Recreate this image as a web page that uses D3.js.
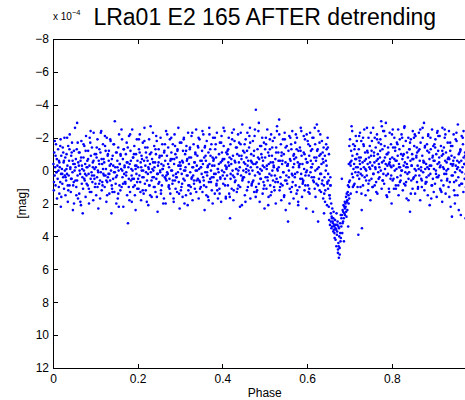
<!DOCTYPE html>
<html><head><meta charset="utf-8">
<script src="https://cdn.jsdelivr.net/npm/d3@7"></script>
<style>body{margin:0;background:#fff;overflow:hidden} text{font-family:"Liberation Sans",Arial,Helvetica,sans-serif}</style>
</head><body><svg id="c" width="465" height="400"></svg>
<script>
const titleText = "LRa01 E2 165 AFTER detrending";
const xLabel = "Phase", yLabel = "[mag]";
const xTicks = [0, 0.2, 0.4, 0.6, 0.8];
const yTicks = [-8, -6, -4, -2, 0, 2, 4, 6, 8, 10, 12];
const expLabel = "x 10", expPower = "\u22124";

// [phase, magnitude (x 1e-4)]
const band1 = [
[.001,-0.4],[.002,1.2],[.003,-1.1],[.004,0.3],[.005,-0.2],[.006,0.9],[.007,-1.6],[.008,0.1],[.009,-0.7],[.0095,1.7],
[.011,0.5],[.012,-1.3],[.013,0.0],[.014,-0.6],[.015,1.4],[.016,-0.2],[.017,0.7],[.018,-1.9],[.019,0.2],[.0195,-0.9],[.0185,2.2],
[.021,-0.1],[.022,0.8],[.023,-1.4],[.024,0.4],[.025,-0.5],[.026,1.1],[.027,-2.0],[.028,0.0],[.029,-0.8],[.0295,1.5],
[.031,0.6],[.032,-1.0],[.033,0.2],[.034,-0.3],[.035,1.9],[.036,-1.5],[.037,0.3],[.038,-0.6],[.039,0.9],[.0395,-2.2],
[.041,-0.2],[.042,1.3],[.043,-0.9],[.044,0.5],[.045,-1.7],[.046,0.1],[.047,2.4],[.048,-0.4],[.049,0.7],[.0495,-1.2],
[.051,0.0],[.052,-2.6],[.053,0.6],[.054,-0.7],[.055,1.0],[.056,-1.3],[.057,-2.9],[.058,0.3],[.059,1.7],[.0595,-0.5],
[.061,-0.3],[.062,1.4],[.063,-1.1],[.064,0.2],[.065,-0.6],[.066,2.1],[.067,-1.8],[.068,0.8],[.069,-0.1],[.0695,0.4],
[.071,1.1],[.072,-0.8],[.073,0.0],[.074,-1.5],[.075,0.6],[.076,-0.4],[.077,1.6],[.078,-2.1],[.079,0.3],[.0795,-0.2],
[.081,-0.6],[.082,0.9],[.083,-1.2],[.084,0.2],[.085,2.0],[.086,-0.3],[.087,1.3],[.088,-1.7],[.089,0.5],[.0895,-0.9],
[.091,0.1],[.092,-1.4],[.093,0.7],[.094,-0.5],[.095,1.8],[.096,-2.3],[.097,0.3],[.098,-0.1],[.099,1.0],[.0985,-1.0],
[.101,-0.2],[.102,1.5],[.103,-0.8],[.104,0.4],[.105,-1.9],[.106,0.0],[.107,2.3],[.108,-0.6],[.109,0.8],[.1095,-1.3],
[.111,0.6],[.112,-1.1],[.113,0.1],[.114,-2.4],[.115,1.2],[.116,-0.4],[.117,0.9],[.118,-1.6],[.119,0.2],[.1195,-0.7],
[.121,-0.5],[.122,1.0],[.123,-1.5],[.124,0.3],[.125,-0.1],[.126,1.9],[.127,-2.0],[.128,0.7],[.129,-0.9],[.1295,0.4],
[.131,0.2],[.132,-1.2],[.133,1.4],[.134,-0.3],[.135,0.6],[.136,-1.8],[.137,0.0],[.138,2.6],[.139,-0.7],[.1395,1.1],
[.141,-0.9],[.142,0.5],[.143,-1.6],[.144,0.1],[.145,1.3],[.146,-3.0],[.147,-0.2],[.148,0.8],[.149,-1.1],[.1495,2.0],
[.151,0.3],[.152,-0.6],[.153,1.7],[.154,-1.4],[.155,0.0],[.156,-2.2],[.157,0.9],[.158,-0.4],[.159,1.2],[.1595,-1.0],
[.161,-0.1],[.162,1.0],[.163,-1.9],[.164,0.4],[.165,-0.7],[.166,2.2],[.167,-1.3],[.168,0.2],[.169,-0.3],[.1695,0.7],
[.171,0.8],[.172,-1.0],[.173,0.1],[.174,-1.7],[.175,1.5],[.176,-0.5],[.177,3.2],[.178,-0.2],[.179,0.5],[.1795,-2.1],
[.181,-0.4],[.182,1.3],[.183,-1.2],[.184,0.6],[.185,-0.1],[.186,1.9],[.187,-2.5],[.188,0.0],[.189,-0.8],[.1895,1.0],
[.191,0.5],[.192,-1.5],[.193,0.9],[.194,-0.3],[.195,2.4],[.196,-1.0],[.197,0.2],[.198,-1.9],[.199,1.1],[.1995,-0.6]
];
const band2 = [
[.201,-0.2],[.202,1.1],[.203,-1.3],[.204,0.3],[.205,-2.2],[.206,0.7],[.207,-0.5],[.208,1.8],[.209,-0.9],[.2095,0.0],
[.211,0.4],[.212,-1.7],[.213,0.0],[.214,1.4],[.215,-0.6],[.216,-2.6],[.217,0.8],[.218,-0.3],[.219,1.2],[.2195,-1.1],
[.221,-0.8],[.222,0.6],[.223,-1.4],[.224,0.2],[.225,2.1],[.226,-0.1],[.227,-1.9],[.228,0.9],[.229,-0.4],[.2295,1.5],
[.231,0.1],[.232,-1.1],[.233,1.6],[.234,-0.7],[.235,0.4],[.236,-2.3],[.237,0.0],[.238,1.0],[.239,-1.5],[.2395,-0.2],
[.241,-0.5],[.242,1.3],[.243,-1.0],[.244,0.5],[.245,-1.8],[.246,0.2],[.247,2.5],[.248,-0.3],[.249,0.8],[.2495,-1.3],
[.251,0.7],[.252,-0.9],[.253,0.1],[.254,-2.0],[.255,1.2],[.256,-0.4],[.257,0.9],[.258,-1.6],[.259,0.3],[.2595,-0.1],
[.261,-0.3],[.262,1.7],[.263,-1.2],[.264,0.4],[.265,-0.6],[.266,2.0],[.267,-2.4],[.268,0.6],[.269,-0.9],[.2695,0.1],
[.271,0.2],[.272,-1.4],[.273,1.0],[.274,-0.2],[.275,0.5],[.276,-1.9],[.277,1.4],[.278,-0.7],[.279,0.0],[.2795,-1.1],
[.281,-0.7],[.282,0.8],[.283,-1.6],[.284,0.3],[.285,1.9],[.286,-0.4],[.287,-2.2],[.288,0.6],[.289,-1.0],[.2895,1.1],
[.291,0.4],[.292,-0.8],[.293,1.3],[.294,-1.3],[.295,0.1],[.296,-2.6],[.297,0.7],[.298,-0.3],[.299,2.3],[.2995,-0.5],
[.301,-0.1],[.302,1.2],[.303,-1.7],[.304,0.2],[.305,-0.6],[.306,1.6],[.307,-1.2],[.308,0.5],[.309,-2.0],[.3095,0.0],
[.311,0.6],[.312,-1.0],[.313,-0.2],[.314,1.5],[.315,-1.5],[.316,0.3],[.317,-0.7],[.318,2.1],[.319,-2.3],[.3195,0.9],
[.321,-0.4],[.322,0.9],[.323,-1.3],[.324,0.1],[.325,1.4],[.326,-0.8],[.327,-2.1],[.328,0.4],[.329,-0.2],[.3295,1.8],
[.331,0.3],[.332,-1.6],[.333,0.8],[.334,-0.5],[.335,1.1],[.336,-1.1],[.337,0.0],[.338,-2.5],[.339,0.6],[.3395,-0.3],
[.341,-0.9],[.342,0.5],[.343,-1.4],[.344,1.7],[.345,-0.1],[.346,-1.9],[.347,0.7],[.348,-0.6],[.349,1.0],[.3495,-0.2],
[.351,0.2],[.352,-1.2],[.353,1.3],[.354,-0.4],[.355,-2.2],[.356,0.6],[.357,-0.8],[.358,2.4],[.359,-1.5],[.3595,0.1],
[.361,-0.6],[.362,1.0],[.363,-1.8],[.364,0.3],[.365,-0.2],[.366,1.6],[.367,-1.1],[.368,0.7],[.369,-2.6],[.3695,-0.4],
[.371,0.5],[.372,-0.9],[.373,0.0],[.374,-1.6],[.375,1.2],[.376,-0.3],[.377,2.0],[.378,-2.0],[.379,0.4],[.3795,-0.7],
[.381,-0.3],[.382,1.4],[.383,-1.3],[.384,0.2],[.385,-0.8],[.386,0.9],[.387,-2.3],[.388,0.6],[.389,-0.1],[.3895,1.7],
[.391,0.1],[.392,-1.0],[.393,1.1],[.394,-1.7],[.395,0.4],[.396,-0.5],[.397,1.9],[.398,-2.1],[.399,0.0],[.3995,-0.6]
];
const band3 = [
[.401,-0.7],[.402,0.8],[.403,-1.5],[.404,0.1],[.405,-2.4],[.406,0.5],[.407,-0.3],[.408,1.6],[.409,-1.1],[.4095,-0.1],
[.411,0.3],[.412,-1.2],[.413,0.9],[.414,-0.5],[.415,-2.0],[.416,1.4],[.417,-0.8],[.418,2.9],[.419,-1.6],[.4195,0.2],
[.421,-0.4],[.422,1.1],[.423,-1.9],[.424,0.0],[.425,-0.9],[.426,1.8],[.427,-2.5],[.428,0.4],[.429,-0.6],[.4295,0.7],
[.431,0.6],[.432,-1.4],[.433,-0.1],[.434,1.3],[.435,-1.0],[.436,0.2],[.437,-2.2],[.438,0.9],[.439,-0.5],[.4395,-1.7],
[.441,-0.2],[.442,1.0],[.443,-1.6],[.444,0.3],[.445,-0.7],[.446,2.1],[.447,-2.8],[.448,0.5],[.449,-1.2],[.4495,0.0],
[.451,0.4],[.452,-1.1],[.453,1.5],[.454,-0.4],[.455,-1.9],[.456,0.1],[.457,-0.8],[.458,1.2],[.459,-2.3],[.4595,-0.3],
[.461,-0.6],[.462,0.7],[.463,-1.4],[.464,0.2],[.465,-2.6],[.466,1.7],[.467,-0.2],[.468,-1.0],[.469,0.9],[.4695,-0.5],
[.471,0.0],[.472,-1.8],[.473,0.6],[.474,-0.9],[.475,1.3],[.476,-2.1],[.477,0.3],[.478,-0.4],[.479,-3.7],[.4795,1.0],
[.481,-0.5],[.482,1.2],[.483,-1.3],[.484,0.1],[.485,-2.4],[.486,0.8],[.487,-0.7],[.488,1.9],[.489,-1.5],[.4895,-0.1],
[.491,0.5],[.492,-1.0],[.493,0.0],[.494,-2.0],[.495,1.4],[.496,-0.6],[.497,0.7],[.498,-1.7],[.499,-0.2],[.4995,2.3],
[.501,-0.8],[.502,0.4],[.503,-1.6],[.504,1.1],[.505,-0.3],[.506,-2.5],[.507,0.6],[.508,-1.1],[.509,1.6],[.5095,-0.4],
[.511,0.2],[.512,-1.3],[.513,0.9],[.514,-0.5],[.515,-2.2],[.516,1.3],[.517,-0.9],[.518,0.0],[.519,-1.8],[.5195,0.6],
[.521,-0.3],[.522,1.0],[.523,-2.0],[.524,0.3],[.525,-0.7],[.526,2.0],[.527,-1.4],[.528,0.5],[.529,-2.7],[.5295,-0.1],
[.531,0.7],[.532,-1.1],[.533,-0.2],[.534,-3.1],[.535,1.2],[.536,-0.6],[.537,0.4],[.538,-1.6],[.539,1.8],[.5395,-0.9],
[.541,-0.4],[.542,0.9],[.543,-1.9],[.544,0.1],[.545,-1.0],[.546,1.5],[.547,-2.3],[.548,0.6],[.549,-0.5],[.5495,2.4],
[.551,0.3],[.552,-1.5],[.553,0.8],[.554,-0.3],[.555,3.1],[.556,-1.2],[.557,0.0],[.558,-2.1],[.559,1.1],[.5595,-0.7],
[.561,-0.6],[.562,1.3],[.563,-1.3],[.564,0.2],[.565,-2.4],[.566,0.7],[.567,-0.2],[.568,1.7],[.569,-1.0],[.5695,-0.4],
[.571,0.4],[.572,-1.7],[.573,0.9],[.574,-0.8],[.575,1.4],[.576,-2.0],[.577,0.1],[.578,-0.5],[.579,2.1],[.5795,-1.2],
[.581,-0.2],[.582,1.0],[.583,-1.4],[.584,0.5],[.585,-2.6],[.586,0.2],[.587,-0.9],[.588,1.6],[.589,-0.4],[.5895,0.8],
[.591,0.6],[.592,-1.1],[.593,-0.1],[.594,1.2],[.595,-1.9],[.596,0.3],[.597,-0.7],[.598,2.3],[.599,-2.2],[.5995,0.0]
];
const dipPoints = [
[.601,-0.5],[.602,0.9],[.603,-1.6],[.604,0.3],[.605,-0.9],[.606,1.4],[.607,-2.3],[.608,0.1],[.609,-1.2],[.6095,-0.2],
[.611,0.4],[.612,-1.3],[.613,-0.4],[.614,2.5],[.615,-2.0],[.616,0.7],[.617,-0.8],[.618,1.1],[.619,-1.6],[.6195,0.0],
[.621,-0.6],[.622,0.8],[.623,-2.8],[.624,-0.1],[.625,-1.3],[.626,3.1],[.627,-2.4],[.628,0.5],[.629,-0.9],[.6295,1.2],
[.631,0.2],[.632,-1.0],[.633,1.3],[.634,-0.4],[.635,-1.8],[.636,0.6],[.637,-0.7],[.638,1.7],[.639,-1.4],[.6395,0.9],[.640,2.6],
[.641,0.4],[.642,-0.9],[.643,1.2],[.644,0.0],[.645,-1.6],[.646,-0.3],[.647,2.1],[.648,0.8],[.649,-1.4],[.6495,1.1],[.6485,-2.0],
[.651,0.6],[.652,3.0],[.653,1.5],[.654,3.3],[.655,0.9],[.656,3.1],[.657,2.0],[.658,2.8],[.659,3.4],[.6595,2.3],
[.661,3.2],[.662,2.9],[.663,3.6],[.664,3.4],[.665,4.1],[.666,3.0],[.667,3.5],[.668,3.3],[.669,4.6],[.6695,2.6],[.6645,3.8],
[.671,3.7],[.672,3.1],[.673,4.8],[.674,3.4],[.675,5.3],[.676,4.0],[.677,5.1],[.678,3.2],[.679,4.3],[.6795,2.7],[.6745,4.6],
[.681,2.9],[.682,0.5],[.683,3.8],[.684,2.4],[.685,3.1],[.686,2.1],[.687,4.3],[.688,2.6],[.689,1.9],[.6895,2.3],
[.691,2.2],[.692,1.6],[.693,2.8],[.694,1.9],[.695,2.4],[.696,1.3],[.697,3.4],[.698,2.0],[.699,1.0],[.6995,1.7],
[.701,0.6],[.702,-0.5],[.703,1.4],[.704,-1.2],[.705,-2.7],[.706,0.2],[.707,-0.9],[.708,1.0],[.709,-1.6],[.7095,-0.1],
[.6512,2.2],[.6538,1.7],[.6561,2.6],[.6572,3.5],[.6587,2.9],[.6603,3.1],[.6618,3.7],[.6626,2.5],[.6641,3.3],[.6657,3.0],
[.6672,4.2],[.6686,3.6],[.6703,3.9],[.6714,3.3],[.6728,5.0],[.6739,4.4],[.6752,3.5],[.6768,4.7],[.6781,3.8],[.6796,4.1],
[.6808,3.4],[.6822,2.7],[.6837,3.2],[.6851,2.5],[.6866,2.9],[.6879,2.2],[.6893,2.7],[.6907,2.0],[.6921,2.5],[.6936,1.4],
[.6951,1.8],[.6965,0.9],[.6978,1.5],[.6992,0.7],[.6985,-0.4],[.6998,-1.5]
];
const band4 = [
[.711,-0.4],[.712,0.8],[.713,-1.5],[.714,0.1],[.715,-2.1],[.716,-0.7],[.717,1.3],[.718,-1.0],[.719,0.3],[.7195,-0.2],
[.721,3.9],[.722,-1.3],[.723,0.5],[.724,-0.6],[.725,-2.3],[.726,1.0],[.727,-0.1],[.728,-1.8],[.729,2.4],[.7295,3.5],[.7225,-0.8],[.7265,0.2],
[.731,-0.5],[.732,0.9],[.733,-1.6],[.734,-0.2],[.735,-2.5],[.736,0.4],[.737,-1.1],[.738,1.5],[.739,-0.7],[.7395,0.0],
[.741,0.3],[.742,-1.2],[.743,-0.4],[.744,1.2],[.745,-2.0],[.746,-0.8],[.747,0.6],[.748,-1.5],[.749,-0.1],[.7495,1.8],
[.751,-0.9],[.752,0.5],[.753,-1.8],[.754,-0.3],[.755,1.0],[.756,-2.6],[.757,0.2],[.758,-1.1],[.759,-0.5],[.7595,0.9],
[.761,-0.2],[.762,-1.4],[.763,0.7],[.764,-0.6],[.765,-2.2],[.766,1.4],[.767,-1.0],[.768,0.1],[.769,-1.7],[.7695,-0.4],
[.771,0.4],[.772,-0.8],[.773,-1.9],[.774,0.0],[.775,-3.0],[.776,1.1],[.777,-0.5],[.778,-1.3],[.779,0.6],[.7795,-2.4],
[.781,-0.6],[.782,0.8],[.783,-1.5],[.784,-0.1],[.785,-2.1],[.786,-2.9],[.787,0.3],[.788,-1.0],[.789,1.6],[.7895,-0.3],
[.791,0.2],[.792,-1.1],[.793,-0.4],[.794,1.3],[.795,-2.3],[.796,-0.7],[.797,0.5],[.798,-1.6],[.799,-0.2],[.7995,2.0],
[.801,-0.8],[.802,0.6],[.803,-1.4],[.804,-0.3],[.805,1.1],[.806,-2.0],[.807,0.0],[.808,-1.2],[.809,-0.6],[.8095,0.9],
[.811,-0.1],[.812,-1.7],[.813,0.4],[.814,-0.9],[.815,-2.5],[.816,1.5],[.817,-0.4],[.818,-1.3],[.819,0.7],[.8195,-0.2],
[.821,0.3],[.822,-1.0],[.823,-2.2],[.824,0.0],[.825,-0.7],[.826,1.2],[.827,-1.5],[.828,-0.3],[.829,0.8],[.8295,-2.6],
[.831,-0.5],[.832,0.9],[.833,-1.8],[.834,-0.2],[.835,1.7],[.836,-1.1],[.837,0.2],[.838,-0.8],[.839,-2.0],[.8395,0.5],
[.841,0.1],[.842,-1.3],[.843,2.5],[.844,-0.6],[.845,-1.9],[.846,0.6],[.847,-0.3],[.848,-1.0],[.849,1.1],[.8495,-2.4],
[.851,-0.7],[.852,0.4],[.853,-1.5],[.854,-0.1],[.855,1.4],[.856,-2.1],[.857,0.0],[.858,-0.9],[.859,-1.4],[.8595,0.7],
[.861,-0.3],[.862,1.0],[.863,-1.2],[.864,-2.3],[.865,0.3],[.866,-0.6],[.867,1.8],[.868,-1.7],[.869,-0.2],[.8695,0.5],
[.871,0.6],[.872,-0.9],[.873,-2.0],[.874,0.1],[.875,-0.5],[.876,-2.9],[.877,1.2],[.878,-1.4],[.879,-0.1],[.8795,0.8],
[.881,-0.4],[.882,0.7],[.883,-1.6],[.884,-0.2],[.885,1.5],[.886,-2.2],[.887,0.3],[.888,-1.1],[.889,-0.7],[.8895,2.1],
[.891,0.2],[.892,-1.3],[.893,-0.3],[.894,0.9],[.895,-2.5],[.896,-0.8],[.897,0.5],[.898,-1.5],[.899,1.3],[.8995,-0.1],
[.901,-0.6],[.902,0.8],[.903,-1.9],[.904,0.0],[.905,-1.0],[.906,1.6],[.907,-2.3],[.908,-0.4],[.909,0.4],[.9095,-1.2],
[.911,0.3],[.912,-0.8],[.913,-2.1],[.914,1.1],[.915,-0.3],[.916,-1.5],[.917,0.6],[.918,-0.9],[.919,1.9],[.9195,-2.6],
[.921,-0.2],[.922,0.9],[.923,-1.4],[.924,0.2],[.925,-2.0],[.926,-0.6],[.927,1.4],[.928,-1.1],[.929,0.0],[.9295,-0.5],
[.931,0.5],[.932,-1.7],[.933,-0.1],[.934,1.0],[.935,-2.4],[.936,-0.7],[.937,0.7],[.938,-1.2],[.939,2.2],[.9395,-0.4],
[.941,-0.9],[.942,2.8],[.943,-1.5],[.944,0.3],[.945,-0.4],[.946,-2.2],[.947,1.2],[.948,-0.8],[.949,2.0],[.9495,0.1],
[.951,-0.3],[.952,0.6],[.953,-1.8],[.954,-0.1],[.955,1.5],[.956,-2.8],[.957,0.4],[.958,-1.0],[.959,-0.5],[.9595,0.9],
[.961,0.0],[.962,-1.3],[.963,2.7],[.964,-0.6],[.965,-2.1],[.966,0.8],[.967,-0.2],[.968,-1.6],[.969,1.3],[.9695,-0.8],
[.971,-0.4],[.972,0.5],[.973,-1.1],[.974,2.9],[.975,-0.7],[.9745,0.2]
];
const extraA = [
[.0023,0.7],[.0061,-0.9],[.0104,-0.3],[.0137,1.0],[.0172,-1.5],[.0218,0.2],[.0259,-0.6],[.0297,0.4],[.0334,-2.0],[.0361,1.2],
[.0408,-0.1],[.0442,-1.1],[.0476,0.9],[.0513,-0.4],[.0551,1.5],[.0583,-1.7],[.0627,0.0],[.0664,-0.8],[.0702,2.6],[.0739,0.5],
[.0771,-1.2],[.0813,-0.2],[.0846,1.1],[.0888,-2.4],[.0921,0.3],[.0957,-0.6],[.1002,0.8],[.1033,-1.4],[.1069,0.1],[.1112,1.7],
[.1148,-0.7],[.1181,-0.1],[.1226,-2.1],[.1259,0.6],[.1297,-1.0],[.1331,0.2],[.1368,-0.4],[.1405,1.3],[.1441,-1.6],[.1487,0.4],
[.1523,-0.2],[.1554,2.2],[.1597,-0.9],[.1636,0.0],[.1672,-1.3],[.1708,0.7],[.1743,-0.5],[.1789,1.0],[.1821,-2.2],[.1857,0.3],
[.1893,-0.8],[.1934,1.5],[.1969,-0.3],[.2011,0.5],[.2047,-1.1],[.2083,-0.2],[.2119,1.2],[.2158,-1.8],[.2196,0.1],[.2234,-0.6],
[.2271,0.9],[.2305,-2.7],[.2347,-0.1],[.2382,0.4],[.2419,-1.3],[.2453,1.6],[.2492,-0.5],[.2531,0.0],[.2568,-0.9],[.2604,2.0],
[.2643,-1.6],[.2676,0.3],[.2718,-0.4],[.2751,1.1],[.2793,-2.0],[.2829,0.6],[.2864,-0.7],[.2902,0.2],[.2938,-1.2],[.2977,1.4],
[.3014,-0.3],[.3049,0.8],[.3087,-1.9],[.3123,0.0],[.3161,-0.6],[.3197,1.2],[.3236,-1.4],[.3271,0.5],[.3309,-0.2],
[.0042,-1.8],[.0083,0.1],[.0151,-0.5],[.0196,1.6],[.0242,-1.1],[.0279,0.3],[.0318,-0.1],[.0349,0.9],[.0389,-1.3],[.0425,0.5],
[.0463,-0.6],[.0496,2.0],[.0532,-0.2],[.0569,0.6],[.0611,-1.1],[.0646,1.9],[.0683,-0.3],[.0721,-1.6],[.0757,0.2],[.0794,0.8],
[.0829,-0.7],[.0867,-2.0],[.0905,1.3],[.0941,-0.2],[.0978,0.5],[.1017,-1.0],[.1051,1.0],[.1093,-0.4],[.1129,-2.3],[.1164,0.7],
[.1203,0.3],[.1243,-1.2],[.1278,1.5],[.1316,-0.6],[.1352,-1.9],[.1387,0.9],[.1423,-0.3],[.1462,0.1],[.1505,-1.1],[.1541,1.4],
[.1576,-0.4],[.1618,-2.5],[.1654,0.8],[.1691,-0.2],[.1727,0.3],[.1765,-1.4],[.1804,1.8],[.1839,-0.6],[.1875,0.5],[.1912,-1.0],
[.1951,-0.1],[.1988,0.7],[.2029,-1.9],[.2065,1.3],[.2101,-0.7],[.2139,0.4],[.2177,-1.4],[.2215,1.9],[.2252,-0.2],[.2289,-1.0],
[.2326,0.6],[.2364,-0.5],[.2401,1.0],[.2437,-2.1],[.2474,0.2],[.2512,-0.8],[.2549,1.4],[.2586,-0.1],[.2624,-1.1],[.2659,0.5],
[.2697,-2.2],[.2735,0.9],[.2772,-0.6],[.2811,0.0],[.2846,1.7],[.2883,-1.5],[.2921,0.4],[.2958,-0.3],[.2996,-1.7],[.3032,1.0],
[.3068,-0.5],[.3105,2.0],[.3142,-1.2],[.3179,0.3],[.3218,-0.8],[.3254,1.0],[.3289,-2.3]
];
const extraB = [
[.3328,0.6],[.3364,-1.0],[.3401,0.0],[.3437,-2.0],[.3472,1.1],[.3511,-0.6],[.3546,0.4],[.3583,-1.4],[.3621,1.5],[.3657,-0.3],
[.3694,-2.2],[.3731,0.7],[.3768,-0.8],[.3804,0.2],[.3842,-1.6],[.3879,1.2],[.3916,-0.4],[.3953,0.5],[.3989,-1.1],[.4026,-2.6],
[.4063,0.9],[.4101,-0.2],[.4138,-1.3],[.4174,1.6],[.4211,-0.7],[.4248,0.3],[.4286,-1.8],[.4322,-0.1],[.4359,1.1],[.4397,-0.9],
[.4433,-2.3],[.4471,0.6],[.4508,-0.5],[.4544,1.9],[.4582,-1.2],[.4619,0.0],[.4656,-1.7],[.4693,0.8],[.4731,-0.4],[.4768,-2.5],
[.4804,1.3],[.4841,-0.8],[.4879,0.2],[.4916,-1.5],[.4953,-0.3],[.4991,0.9],[.5027,-2.0],[.5064,0.4],[.5102,-0.9],[.5139,1.5],
[.5176,-1.4],[.5213,-0.2],[.5251,0.7],[.5287,-2.4],[.5324,-0.6],[.5362,1.0],[.5399,-1.1],[.5436,0.1],[.5473,-1.9],[.5511,0.6],
[.5548,-0.4],[.5585,2.0],[.5622,-1.6],[.5659,0.3],[.5697,-0.7],[.5734,-2.2],[.5771,1.2],[.5809,-0.3],[.5846,-1.2],[.5883,0.5],
[.5921,-2.1],[.5958,0.9],[.5995,-0.5],[.6032,1.3],[.6069,-1.5],[.6107,-0.2],[.6144,0.6],[.6181,-2.6],[.6219,-0.8],[.6256,0.9],
[.6293,-1.7],[.6331,0.2],[.6368,-1.1],[.6405,1.4],[.6442,-0.6],[.6479,0.7],[.6516,-1.0],[.6549,0.4],
[.3346,-0.5],[.3383,1.3],[.3419,-1.5],[.3455,0.6],[.3492,-0.2],[.3528,-2.4],[.3565,0.9],[.3603,-0.9],[.3639,0.1],[.3676,1.8],
[.3712,-1.3],[.3749,0.4],[.3787,-0.6],[.3823,-2.0],[.3861,0.8],[.3897,-0.1],[.3934,1.4],[.3971,-1.7],[.4008,0.3],[.4044,-0.7],
[.4082,1.7],[.4119,-1.0],[.4156,-0.3],[.4193,0.5],[.4229,-2.3],[.4267,1.2],[.4304,-0.5],[.4341,-1.4],[.4378,0.0],[.4415,2.2],
[.4452,-0.9],[.4489,0.4],[.4526,-1.6],[.4563,-0.1],[.4601,1.0],[.4637,-2.1],[.4675,-0.6],[.4712,0.7],[.4749,-1.2],[.4786,1.6],
[.4823,-0.2],[.4861,-2.9],[.4897,0.5],[.4935,-0.8],[.4972,1.1],[.5009,-1.3],[.5046,-0.1],[.5083,2.1],[.5121,-1.9],[.5158,0.3],
[.5195,-0.5],[.5232,1.2],[.5269,-1.1],[.5306,0.0],[.5343,-2.2],[.5381,0.8],[.5418,-0.6],[.5455,1.6],[.5492,-1.4],[.5529,-0.3],
[.5567,0.4],[.5604,-2.0],[.5641,1.0],[.5678,-0.9],[.5716,0.2],[.5753,-1.3],[.5790,1.9],[.5827,-0.4],[.5864,-2.4],[.5902,0.7],
[.5939,-1.0],[.5976,0.1],[.6013,-1.8],[.6051,1.1],[.6088,-0.6],[.6125,-2.0],[.6162,0.4],[.6199,1.6],[.6237,-1.2],[.6274,-0.2],
[.6311,-2.2],[.6349,0.8],[.6386,-0.5],[.6423,1.9],[.6461,-1.3],[.6497,0.2],[.6528,1.5],[.6553,0.9]
];
const extraC = [
[.7012,-1.9],[.7047,-0.6],[.7083,0.4],[.7118,-1.3],[.7156,-0.2],[.7192,1.0],[.7229,-2.1],[.7266,-0.8],[.7302,0.3],[.7339,-1.5],
[.7376,-0.1],[.7413,-2.6],[.7449,0.8],[.7487,-0.5],[.7523,-1.2],[.7561,0.2],[.7597,-2.0],[.7634,1.3],[.7671,-0.7],[.7708,-0.2],
[.7745,-1.6],[.7782,0.6],[.7819,-2.4],[.7856,-0.4],[.7893,-1.0],[.7931,1.1],[.7967,-0.3],[.8004,-2.2],[.8041,0.5],[.8078,-1.4],
[.8115,-0.6],[.8153,0.9],[.8189,-1.9],[.8227,0.0],[.8264,-0.9],[.8301,-2.7],[.8338,0.7],[.8375,-0.2],[.8412,-1.3],[.8449,1.4],
[.8486,-0.7],[.8523,-2.0],[.8561,0.3],[.8598,-1.1],[.8635,-0.1],[.8672,-2.5],[.8709,1.0],[.8746,-0.6],[.8783,-1.5],[.8821,0.4],
[.8858,-2.1],[.8895,-0.3],[.8932,1.7],[.8969,-0.9],[.9006,-1.6],[.9043,0.2],[.9081,-2.4],[.9118,-0.5],[.9155,1.2],[.9192,-1.2],
[.9229,-0.1],[.9266,-2.2],[.9304,0.6],[.9341,-0.8],[.9378,-1.7],[.9415,0.3],[.9452,-0.6],[.9489,1.5],[.9526,-2.3],[.9563,-0.2],
[.9601,-1.1],[.9638,0.8],[.9675,-2.0],[.9712,-0.4],[.9749,1.0],
[.7029,-0.3],[.7065,-2.4],[.7101,0.9],[.7137,-0.7],[.7174,-1.8],[.7211,0.1],[.7247,-0.4],[.7284,1.4],[.7321,-2.0],[.7358,-0.6],
[.7394,0.6],[.7431,-1.1],[.7468,-0.2],[.7505,-2.3],[.7542,1.0],[.7579,-0.9],[.7616,-0.1],[.7653,-1.9],[.7689,0.5],[.7727,-1.2],
[.7764,-2.7],[.7801,0.2],[.7838,-0.8],[.7875,1.5],[.7912,-1.4],[.7949,-0.5],[.7986,0.3],[.8023,-2.5],[.8059,-0.7],[.8097,1.1],
[.8134,-1.6],[.8171,-0.2],[.8208,0.6],[.8245,-2.0],[.8282,-1.0],[.8319,0.1],[.8357,-0.4],[.8394,1.8],[.8431,-1.7],[.8467,-0.3],
[.8505,0.5],[.8542,-2.2],[.8579,-0.8],[.8616,1.1],[.8653,-1.3],[.8691,0.0],[.8727,-2.6],[.8765,-0.5],[.8802,0.7],[.8839,-1.2],
[.8876,-0.1],[.8913,-2.0],[.8951,0.9],[.8987,-0.6],[.9024,-1.4],[.9062,0.4],[.9099,-2.1],[.9136,-0.2],[.9173,1.3],[.9211,-1.0],
[.9248,-2.5],[.9285,0.2],[.9322,-0.7],[.9359,1.6],[.9397,-1.5],[.9434,-0.3],[.9471,0.7],[.9508,-1.9],[.9545,-0.6],[.9582,2.4],
[.9619,-1.2],[.9657,0.1],[.9694,-2.4],[.9731,-0.9],[.9768,0.5]
];

const svg = d3.select("#c");
const x = d3.scaleLinear().domain([0, 1]).range([53, 476.5]);
const y = d3.scaleLinear().domain([-8, 12]).range([39, 368]);
const tick = 4.5;
const fmtX = d => d === 0 ? "0" : d3.format("")(d);

svg.append("g").attr("transform", `translate(0,${y(12)})`)
  .call(d3.axisBottom(x).tickValues(xTicks).tickFormat(fmtX).tickSizeInner(-tick).tickSizeOuter(0).tickPadding(6))
  .call(g => g.selectAll("text").attr("font-size", 12).attr("fill", "#000"));
svg.append("g").attr("transform", `translate(0,${y(-8)})`)
  .call(d3.axisTop(x).tickValues(xTicks).tickFormat("").tickSizeInner(-tick).tickSizeOuter(0));
svg.append("g").attr("transform", `translate(${x(0)},0)`)
  .call(d3.axisLeft(y).tickValues(yTicks).tickSizeInner(-tick).tickSizeOuter(0).tickPadding(4))
  .call(g => g.selectAll("text").attr("font-size", 12).attr("fill", "#000"));
svg.selectAll(".domain, .tick line").attr("stroke", "#000").attr("stroke-width", 1).attr("shape-rendering", "crispEdges");

const allPts = [].concat(band1, band2, band3, dipPoints, band4, extraA, extraB, extraC);
svg.append("g").selectAll("circle").data(allPts).join("circle")
  .attr("cx", d => x(d[0])).attr("cy", d => y(d[1])).attr("r", 1.3).attr("fill", "#0000ff");

svg.append("text").attr("x", (x(0) + x(1)) / 2).attr("y", 25).attr("text-anchor", "middle")
  .attr("font-size", 23).text(titleText);
const e = svg.append("text").attr("x", 53).attr("y", 20).attr("font-size", 10);
e.append("tspan").text(expLabel);
e.append("tspan").attr("dy", -5).attr("font-size", 7.5).text(expPower);
svg.append("text").attr("x", (x(0) + x(1)) / 2).attr("y", 397).attr("text-anchor", "middle")
  .attr("font-size", 12).text(xLabel);
svg.append("text").attr("transform", `translate(26,${(y(-8) + y(12)) / 2}) rotate(-90)`)
  .attr("text-anchor", "middle").attr("font-size", 12).text(yLabel);
</script></body></html>
